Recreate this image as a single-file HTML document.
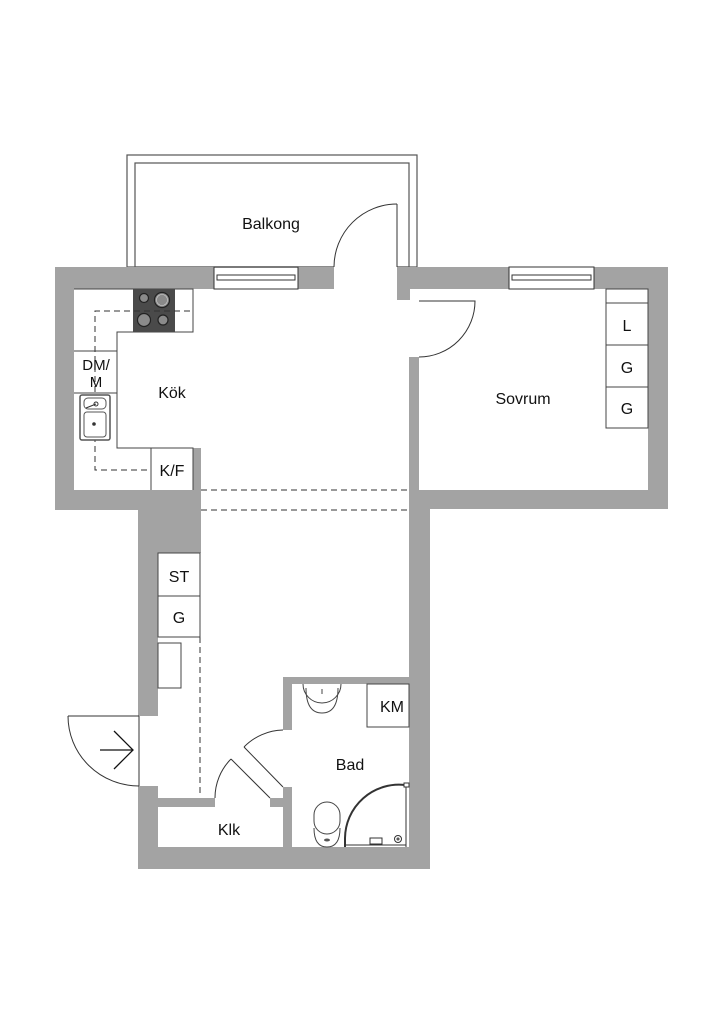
<!DOCTYPE html>
<html><head><meta charset="utf-8"><style>
html,body{margin:0;padding:0;background:#fff;}
svg{display:block;}
text{font-family:"Liberation Sans",sans-serif;fill:#111;}
</style></head><body>
<svg width="724" height="1024" viewBox="0 0 724 1024" xmlns="http://www.w3.org/2000/svg">
<rect width="724" height="1024" fill="#fff"/>
<!-- Balcony -->
<rect x="127" y="155" width="290" height="112" fill="none" stroke="#555" stroke-width="1.2"/>
<rect x="135" y="163" width="274" height="104" fill="none" stroke="#555" stroke-width="1.2"/>
<rect x="334" y="200" width="63" height="70" fill="#fff"/>
<line x1="397" y1="204" x2="397" y2="267" stroke="#333" stroke-width="1"/>
<path d="M397 204 A63 63 0 0 0 334 267" fill="none" stroke="#333" stroke-width="1"/>
<text x="271" y="229" font-size="16" text-anchor="middle">Balkong</text>

<g fill="#a3a3a3">
<rect x="55" y="267" width="159" height="22"/>
<rect x="298" y="267" width="36" height="22"/>
<rect x="397" y="267" width="112" height="22"/>
<rect x="594" y="267" width="74" height="22"/>
<rect x="397" y="289" width="13" height="11"/>
<rect x="55" y="267" width="19" height="243"/>
<rect x="55" y="490" width="146" height="20"/>
<rect x="193" y="448" width="8" height="105"/>
<rect x="138" y="490" width="63" height="63"/>
<rect x="138" y="553" width="20" height="163"/>
<rect x="648" y="267" width="20" height="242"/>
<rect x="409" y="490" width="259" height="19"/>
<rect x="409" y="357" width="10" height="152"/>
<rect x="409" y="490" width="21" height="379"/>
<rect x="283" y="677" width="147" height="7"/>
<rect x="283" y="677" width="9" height="53"/>
<rect x="283" y="787" width="9" height="82"/>
<rect x="138" y="847" width="292" height="22"/>
<rect x="138" y="786" width="20" height="83"/>
<rect x="138" y="798" width="77" height="9"/>
<rect x="270" y="798" width="22" height="9"/>
</g>
<g fill="none" stroke="#333" stroke-width="1">
<rect x="214" y="267" width="84" height="22"/>
<rect x="217" y="275" width="78" height="5"/>
<rect x="509" y="267" width="85" height="22"/>
<rect x="512" y="275" width="79" height="5"/>
</g>
<g fill="none" stroke="#444" stroke-width="1">
<path d="M74 289 H193 V332 H117 V448 H193 V490"/>
<line x1="74" y1="351" x2="117" y2="351"/>
<line x1="74" y1="393" x2="117" y2="393"/>
<line x1="151" y1="448" x2="151" y2="490"/>
</g>
<rect x="133" y="289" width="42" height="43" fill="#4a4a4a"/>
<g stroke="#222" stroke-width="1.2" fill="#8a8a8a">
<circle cx="144" cy="298" r="4.5"/>
<circle cx="162" cy="300" r="7.5"/>
<circle cx="144" cy="320" r="6.5"/>
<circle cx="163" cy="320" r="5"/>
</g>
<circle cx="162" cy="300" r="5.5" fill="none" stroke="#ccc" stroke-width="0.6"/>
<g stroke="#333" stroke-width="1" stroke-dasharray="6,4" fill="none">
<path d="M190 311 H95 V470 H151"/>
<line x1="201" y1="490" x2="409" y2="490"/>
<line x1="201" y1="510" x2="409" y2="510"/>
<line x1="200" y1="637" x2="200" y2="797"/>
</g>
<rect x="80" y="395" width="30" height="45" rx="2" fill="#fff" stroke="#555" stroke-width="1.5"/>
<rect x="84" y="398" width="22" height="11" rx="4" fill="#fff" stroke="#555"/>
<rect x="84" y="412" width="22" height="25" rx="3" fill="#fff" stroke="#555"/>
<circle cx="96" cy="404" r="2" fill="none" stroke="#333"/>
<circle cx="94" cy="424" r="1.8" fill="#333"/>
<line x1="86" y1="408" x2="96" y2="404" stroke="#333"/>
<text x="96" y="370" font-size="15" text-anchor="middle">DM/</text>
<text x="96" y="387" font-size="15" text-anchor="middle">M</text>
<text x="172" y="476" font-size="16" text-anchor="middle">K/F</text>
<text x="172" y="398" font-size="16" text-anchor="middle">Kök</text>

<path d="M419 301 H475 A56 56 0 0 1 419 357" fill="none" stroke="#333" stroke-width="1"/>
<g fill="none" stroke="#444" stroke-width="1">
<rect x="606" y="289" width="42" height="139"/>
<line x1="606" y1="303" x2="648" y2="303"/>
<line x1="606" y1="345" x2="648" y2="345"/>
<line x1="606" y1="387" x2="648" y2="387"/>
</g>
<text x="627" y="331" font-size="16" text-anchor="middle">L</text>
<text x="627" y="373" font-size="16" text-anchor="middle">G</text>
<text x="627" y="414" font-size="16" text-anchor="middle">G</text>
<text x="523" y="404" font-size="16" text-anchor="middle">Sovrum</text>

<g fill="none" stroke="#444" stroke-width="1">
<rect x="158" y="553" width="42" height="84"/>
<line x1="158" y1="596" x2="200" y2="596"/>
<rect x="158" y="643" width="23" height="45"/>
</g>
<text x="179" y="582" font-size="16" text-anchor="middle">ST</text>
<text x="179" y="623" font-size="16" text-anchor="middle">G</text>
<g fill="none" stroke="#333" stroke-width="1">
<line x1="68" y1="716" x2="139" y2="716"/>
<line x1="139" y1="716" x2="139" y2="786"/>
<path d="M68 716 A71 70 0 0 0 139 786"/>
</g>
<g fill="none" stroke="#111" stroke-width="1.3">
<line x1="100" y1="750" x2="133" y2="750"/>
<polyline points="114,731 133,750 114,769"/>
</g>
<g fill="none" stroke="#333" stroke-width="1">
<line x1="231" y1="759" x2="270" y2="798"/>
<path d="M231 759 A55 55 0 0 0 215 798"/>
<line x1="244" y1="747" x2="283" y2="787"/>
<path d="M244 747 A56 56 0 0 1 283 730"/>
</g>
<text x="229" y="835" font-size="16" text-anchor="middle">Klk</text>

<g fill="none" stroke="#444" stroke-width="1">
<rect x="367" y="684" width="42" height="43"/>
<path d="M303 684 A19 19 0 0 0 341 684 M306 688 Q306 713 322 713 Q338 713 338 688"/>
<line x1="322" y1="689" x2="322" y2="694"/>
<rect x="314" y="802" width="26" height="32" rx="13"/>
<path d="M314 828 Q314 847 327 847 Q340 847 340 828"/>
</g>
<ellipse cx="327" cy="840" rx="3" ry="1.5" fill="#555"/>
<g fill="none" stroke="#333">
<path d="M345 847 V838 A54 54 0 0 1 405 785" stroke-width="2"/>
<line x1="406" y1="785" x2="406" y2="847" stroke-width="1"/>
<line x1="345" y1="845" x2="406" y2="845" stroke-width="1"/>
<rect x="404" y="783" width="5" height="4" fill="#fff"/>
<circle cx="398" cy="839" r="3.5"/>
<circle cx="398" cy="839" r="1"/>
<rect x="370" y="838" width="12" height="6"/>
</g>
<text x="392" y="712" font-size="16" text-anchor="middle">KM</text>
<text x="350" y="770" font-size="16" text-anchor="middle">Bad</text>
</svg>
</body></html>
